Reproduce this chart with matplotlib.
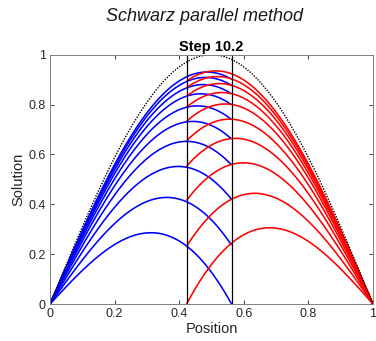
import numpy as np
import matplotlib
matplotlib.use("Agg")
import matplotlib.pyplot as plt

plt.rcParams['font.family'] = ['Liberation Sans', 'DejaVu Sans']

# Overlap interface positions
overlap_left = 0.423
overlap_right = 0.562

# Values of successive left-subdomain (blue) iterates at the right interface
blue_interface_vals = [0.0, 0.236, 0.420, 0.558, 0.662, 0.740, 0.799, 0.843, 0.877, 0.902]
# Values of successive right-subdomain (red) iterates at the left interface
red_interface_vals = [0.0, 0.232, 0.416, 0.553, 0.655, 0.733, 0.790, 0.834, 0.868, 0.895]

xticks = [0, 0.2, 0.4, 0.6, 0.8, 1]
xtick_labels = ["0", "0.2", "0.4", "0.6", "0.8", "1"]
yticks = [0, 0.2, 0.4, 0.6, 0.8, 1]
ytick_labels = ["0", "0.2", "0.4", "0.6", "0.8", "1"]

fig = plt.figure(figsize=(3.76, 3.41), dpi=100)
ax = fig.add_axes([0.133, 0.1085, 0.859, 0.731])

a, b = overlap_left, overlap_right
xe = np.linspace(0, 1, 400)
exact = np.sin(np.pi * xe)

xl = np.linspace(0, b, 300)
for g in blue_interface_vals:
    u = np.sin(np.pi * xl) + (g - np.sin(np.pi * b)) * xl / b
    ax.plot(xl, u, color=(0, 0, 1), lw=1.15, solid_capstyle='butt')

xr = np.linspace(a, 1, 300)
for h in red_interface_vals:
    u = np.sin(np.pi * xr) + (h - np.sin(np.pi * a)) * (1 - xr) / (1 - a)
    ax.plot(xr, u, color=(1, 0, 0), lw=1.15, solid_capstyle='butt')

ax.plot(xe, exact, color='black', lw=1.0, linestyle=(0, (1, 1)))
ax.axvline(a, color='black', lw=0.9)
ax.axvline(b, color='black', lw=0.9)

ax.set_xlim(0, 1)
ax.set_ylim(0, 1)
ax.set_xticks(xticks)
ax.set_xticklabels(xtick_labels)
ax.set_yticks(yticks)
ax.set_yticklabels(ytick_labels)
ax.tick_params(direction='in', length=3, width=0.6, colors='#262626',
               labelsize=9, top=True, right=True, pad=3)
for s in ax.spines.values():
    s.set_color('#808080')
    s.set_linewidth(0.7)

ax.set_xlabel("Position", fontsize=10.5, color='#262626', labelpad=1)
ax.set_ylabel("Solution", fontsize=10.5, color='#262626', labelpad=2)
ax.set_title("Step 10.2", fontsize=10.5, fontweight='bold', pad=3)
fig.text(0.543, 0.952, "Schwarz parallel method", fontsize=13, style='italic',
         ha='center', va='center', color='#1a1a1a')

fig.savefig("out.png", dpi=100)
